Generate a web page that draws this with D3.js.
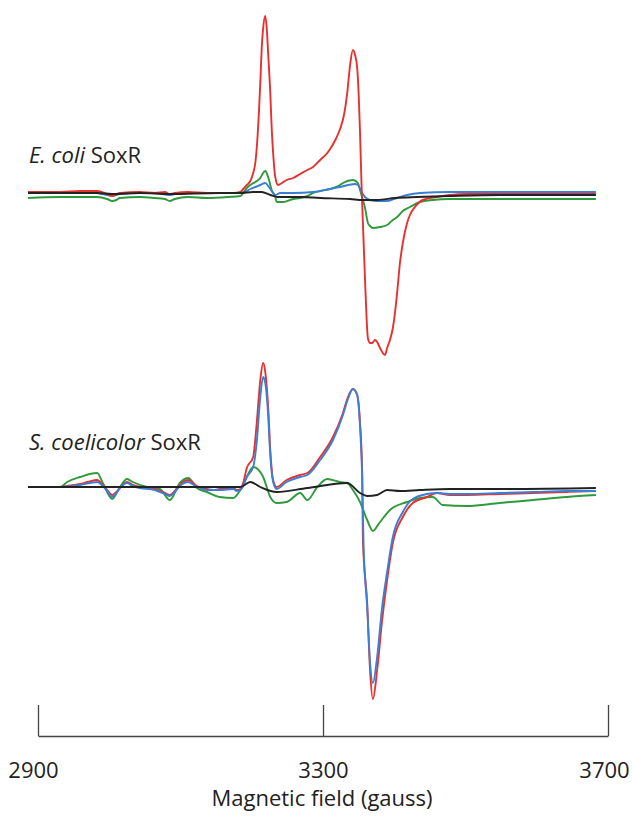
<!DOCTYPE html>
<html>
<head>
<meta charset="utf-8">
<script src="https://cdn.jsdelivr.net/npm/d3@7"></script>
<style>
  body { margin: 0; background: #fff; }
  text { font-family: "Open Sans", sans-serif; fill: #222; }
</style>
</head>
<body>
<script>
// field values in gauss, signal in arbitrary units (derivative EPR)
var ecoliRed = [[2886,1],[2931,1],[2959,2],[2983,2],[2997,-1],[3004,-3],[3015,0],[3043,1],[3064,0],[3078,1],[3085,-1],[3092,0],[3111,1],[3137,0],[3155,0],[3174,0],[3184,1],[3188,4],[3193,8],[3198,12],[3202,20],[3205,30],[3207,45],[3210,80],[3212,110],[3214,145],[3216,165],[3219,177],[3221,165],[3223,140],[3226,100],[3228,65],[3230,40],[3233,16],[3237,8],[3240,9],[3249,13],[3258,15],[3268,19],[3278,23],[3286,26],[3296,33],[3306,40],[3310,44],[3318,54],[3324,64],[3330,80],[3334,100],[3338,128],[3342,143],[3345,138],[3348,125],[3350,100],[3352,60],[3354,10],[3356,-30],[3359,-87],[3363,-145],[3366,-150],[3369,-150],[3373,-147],[3376,-149],[3380,-155],[3385,-161],[3387,-162],[3390,-155],[3394,-147],[3398,-135],[3401,-120],[3404,-100],[3408,-70],[3412,-50],[3418,-30],[3422,-22],[3429,-14],[3440,-7],[3460,-4],[3478,-2],[3502,-1],[3548,-1],[3595,-1],[3642,-1],[3683,-1]]
var ecoliGreen = [[2886,-5],[2931,-4],[2959,-4],[2983,-4],[2997,-6],[3004,-8],[3010,-7],[3015,-5],[3043,-4],[3064,-5],[3078,-6],[3085,-8],[3092,-6],[3111,-4],[3137,-5],[3167,-4],[3184,-3],[3193,5],[3198,8],[3205,11],[3212,15],[3216,20],[3219,22],[3223,16],[3228,3],[3233,-4],[3235,-9],[3244,-9],[3258,-6],[3268,-5],[3278,-3],[3286,0],[3296,2],[3310,4],[3324,8],[3328,10],[3342,13],[3349,10],[3352,3],[3356,-7],[3359,-15],[3363,-30],[3366,-33],[3370,-35],[3380,-34],[3390,-32],[3398,-27],[3404,-24],[3412,-18],[3422,-14],[3436,-9],[3454,-7],[3478,-6],[3548,-6],[3642,-6],[3683,-6]]
var ecoliBlue = [[2886,0],[2931,0],[2959,1],[2983,0],[2997,-2],[3004,-3],[3015,-1],[3043,0],[3064,0],[3085,-2],[3092,-1],[3111,0],[3155,0],[3184,0],[3193,2],[3198,4],[3205,6],[3212,8],[3219,10],[3224,6],[3230,0],[3233,-2],[3240,0],[3258,0],[3286,1],[3310,4],[3324,6],[3345,9],[3349,8],[3354,1],[3359,-4],[3366,-7],[3376,-8],[3390,-8],[3404,-5],[3418,-2],[3436,0],[3478,1],[3548,1],[3642,1],[3683,1]]
var ecoliBlack = [[2886,0],[2983,0],[3004,-1],[3043,0],[3085,-1],[3155,0],[3184,0],[3202,1],[3214,1],[3226,-2],[3237,-4],[3268,-4],[3296,-5],[3338,-6],[3356,-7],[3376,-7],[3401,-5],[3432,-4],[3478,-3],[3548,-2],[3642,-2],[3683,-2]]

var scoeRed = [[2886,0],[2931,0],[2941,1],[2959,3],[2970,5],[2983,7],[2991,2],[2997,-3],[3004,-8],[3010,-5],[3015,-1],[3025,5],[3033,2],[3043,0],[3053,-1],[3064,-2],[3078,-6],[3085,-8],[3092,-4],[3099,2],[3111,7],[3123,1],[3137,-2],[3146,-3],[3155,-2],[3174,-1],[3179,-3],[3184,-2],[3188,4],[3193,19],[3202,30],[3207,64],[3212,107],[3216,124],[3219,115],[3223,80],[3226,37],[3230,7],[3235,0],[3249,7],[3268,12],[3278,14],[3296,30],[3314,50],[3328,74],[3335,90],[3342,98],[3348,92],[3352,64],[3355,14],[3356,-53],[3362,-116],[3366,-183],[3370,-212],[3376,-183],[3383,-133],[3390,-93],[3398,-56],[3412,-30],[3426,-16],[3446,-10],[3460,-6],[3478,-8],[3502,-8],[3548,-7],[3595,-6],[3642,-5],[3683,-4]]
var scoeBlue = [[2886,0],[2931,0],[2959,2],[2983,5],[2991,1],[2997,-4],[3004,-10],[3010,-6],[3015,-1],[3025,4],[3033,1],[3043,-1],[3064,-3],[3078,-7],[3085,-9],[3092,-5],[3099,1],[3111,5],[3123,0],[3137,-3],[3155,-3],[3174,-2],[3179,-4],[3184,-3],[3188,1],[3193,10],[3202,20],[3207,45],[3212,90],[3216,110],[3219,104],[3223,72],[3226,32],[3230,5],[3235,-2],[3249,5],[3268,10],[3278,12],[3296,27],[3314,47],[3328,72],[3335,88],[3342,98],[3348,92],[3352,60],[3355,10],[3357,-60],[3362,-120],[3366,-175],[3370,-196],[3376,-170],[3383,-120],[3390,-85],[3398,-50],[3412,-25],[3426,-12],[3446,-7],[3460,-6],[3478,-7],[3502,-7],[3548,-6],[3595,-5],[3642,-4],[3683,-4]]
var scoeGreen = [[2886,0],[2931,0],[2941,5],[2959,10],[2983,14],[2991,4],[3004,-12],[3015,0],[3025,8],[3033,5],[3053,0],[3071,-2],[3085,-13],[3099,4],[3111,9],[3123,-1],[3137,-5],[3155,-10],[3174,-11],[3184,-3],[3193,10],[3202,20],[3216,10],[3226,-10],[3235,-16],[3249,-15],[3268,-6],[3278,-13],[3292,0],[3306,8],[3324,5],[3334,4],[3342,-3],[3352,-15],[3362,-33],[3370,-44],[3379,-36],[3394,-23],[3418,-15],[3436,-11],[3454,-10],[3468,-18],[3502,-19],[3548,-16],[3595,-13],[3642,-10],[3683,-8]]
var scoeBlack = [[2886,0],[2983,0],[3043,0],[3155,0],[3184,0],[3198,5],[3212,0],[3235,-5],[3278,-1],[3334,4],[3352,-6],[3362,-9],[3376,-8],[3390,-3],[3408,-4],[3436,-3],[3478,-2],[3548,-2],[3683,-1]]

var fieldTicks = [2900, 3300, 3700]

var width = 632, height = 816

var svg = d3.select('body').append('svg')
  .attr('width', width)
  .attr('height', height)

var x = d3.scaleLinear().domain([2900, 3700]).range([38, 608])

function panel(base, series, label) {
  var y = d3.scaleLinear().domain([-200, 200]).range([base + 200, base - 200])
  var line = d3.line()
    .x(d => x(d[0]))
    .y(d => y(d[1]))
    .curve(d3.curveMonotoneX)
  var g = svg.append('g')
  series.forEach(function (s) {
    g.append('path')
      .datum(s.data)
      .attr('fill', 'none')
      .attr('stroke', s.color)
      .attr('stroke-width', 1.9)
      .attr('stroke-linejoin', 'round')
      .attr('d', line)
  })
  var t = svg.append('text')
    .attr('x', label.x)
    .attr('y', label.y)
    .style('font-size', '22px')
  t.append('tspan').style('font-style', 'italic').text(label.italic)
  t.append('tspan').text(' SoxR')
}

panel(193, [
  {data: ecoliGreen, color: '#2e9a3c'},
  {data: ecoliBlue, color: '#3b7fd4'},
  {data: ecoliRed, color: '#e8302f'},
  {data: ecoliBlack, color: '#222222'}
], {x: 29, y: 163, italic: 'E. coli'})

panel(487, [
  {data: scoeGreen, color: '#2e9a3c'},
  {data: scoeRed, color: '#e8302f'},
  {data: scoeBlue, color: '#3b7fd4'},
  {data: scoeBlack, color: '#222222'}
], {x: 29, y: 450, italic: 'S. coelicolor'})

var axis = svg.append('g')
  .attr('transform', 'translate(0, 736)')
  .call(d3.axisBottom(x).tickValues(fieldTicks).tickFormat(d3.format('d'))
    .tickSizeInner(-31).tickSizeOuter(0).tickPadding(26))
axis.select('.domain').attr('stroke', '#444').attr('stroke-width', 1.3)
axis.selectAll('.tick line').attr('stroke', '#444').attr('stroke-width', 1.3)
axis.selectAll('.tick text')
  .style('font-family', '"Open Sans", sans-serif')
  .style('font-size', '22px')
  .attr('fill', '#222')
axis.selectAll('.tick text').filter(d => d === 2900).attr('dx', '-5')
axis.selectAll('.tick text').filter(d => d === 3700).attr('dx', '-4')

svg.append('text')
  .attr('x', 322)
  .attr('y', 806)
  .attr('text-anchor', 'middle')
  .style('font-size', '22px')
  .text('Magnetic field (gauss)')
</script>
</body>
</html>
